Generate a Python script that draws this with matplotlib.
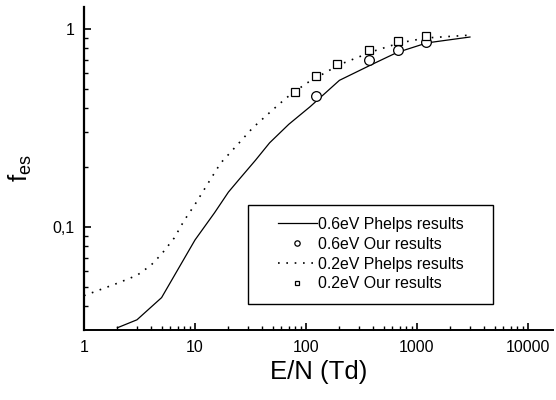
import matplotlib
matplotlib.use("Agg")
import matplotlib.pyplot as plt
from matplotlib.patches import Rectangle
from matplotlib.ticker import FixedLocator, LogLocator, NullFormatter, FixedFormatter

plt.rcParams['font.family'] = ['Liberation Sans', 'DejaVu Sans']

# 0.6 eV Phelps results (solid)
phelps06_x = [2, 3, 5, 10, 15, 20, 25, 35, 47, 70, 109, 200, 400, 660, 1230, 3000]
phelps06_y = [0.031, 0.034, 0.044, 0.086, 0.118, 0.15, 0.174, 0.217, 0.266, 0.33, 0.405, 0.55, 0.665, 0.76, 0.85, 0.91]

# 0.6 eV Our results (circles)
our06_x = [122, 370, 670, 1200]
our06_y = [0.46, 0.70, 0.78, 0.86]

# 0.2 eV Phelps results (dotted)
phelps02_x = [1, 2, 3, 4, 5, 6.5, 8, 10, 13, 17, 25, 33, 50, 67, 100, 200, 400, 700, 1200, 3000]
phelps02_y = [0.045, 0.052, 0.057, 0.064, 0.073, 0.088, 0.108, 0.13, 0.165, 0.21, 0.266, 0.316, 0.39, 0.45, 0.53, 0.66, 0.77, 0.85, 0.90, 0.93]

# 0.2 eV Our results (squares)
our02_x = [80, 122, 192, 370, 670, 1200]
our02_y = [0.48, 0.58, 0.667, 0.78, 0.87, 0.92]

x_ticks = [1, 10, 100, 1000, 10000]
x_ticklabels = ["1", "10", "100", "1000", "10000"]
y_ticks = [0.1, 1]
y_ticklabels = ["0,1", "1"]

fig = plt.figure(figsize=(5.56, 4.0), dpi=100)
ax = fig.add_axes([84 / 556, 70 / 400, 469 / 556, 323 / 400])

ax.plot(phelps06_x, phelps06_y, color='black', lw=0.9, label='0.6eV Phelps results')
ax.plot(our06_x, our06_y, 'o', mfc='white', mec='black', ms=7, mew=0.9, label='0.6eV Our results')
ax.plot(phelps02_x, phelps02_y, color='black', lw=1.2, linestyle=(0, (1, 4)), label='0.2eV Phelps results')
ax.plot(our02_x, our02_y, 's', mfc='white', mec='black', ms=6.3, mew=0.9, label='0.2eV Our results')

ax.set_xscale('log')
ax.set_yscale('log')
ax.set_xlim(1, 16800)
ax.set_ylim(0.0302, 1.29)

ax.xaxis.set_major_locator(FixedLocator(x_ticks))
ax.xaxis.set_major_formatter(FixedFormatter(x_ticklabels))
ax.xaxis.set_minor_locator(LogLocator(base=10, subs=range(2, 10), numticks=20))
ax.xaxis.set_minor_formatter(NullFormatter())
ax.yaxis.set_major_locator(FixedLocator(y_ticks))
ax.yaxis.set_major_formatter(FixedFormatter(y_ticklabels))
ax.yaxis.set_minor_locator(LogLocator(base=10, subs=range(2, 10), numticks=20))
ax.yaxis.set_minor_formatter(NullFormatter())

ax.tick_params(which='major', direction='in', length=5, width=1.2, labelsize=11.5, pad=7)
ax.tick_params(which='minor', direction='in', length=3, width=1.0)
for s in ['top', 'right']:
    ax.spines[s].set_visible(False)
ax.spines['left'].set_linewidth(1.6)
ax.spines['bottom'].set_linewidth(1.4)

ax.set_xlabel('E/N (Td)', fontsize=18.5, labelpad=4)
ax.set_ylabel('f$_{\\mathregular{es}}$', fontsize=18.5, labelpad=13)

leg = ax.legend(loc='upper left', bbox_to_anchor=(278 / 556, 1 - 217 / 400),
                bbox_transform=fig.transFigure, fontsize=11.4, frameon=False,
                handlelength=2.45, handletextpad=0.1, borderpad=0, labelspacing=0.3,
                markerscale=0.55, borderaxespad=0)
fig.add_artist(Rectangle((248 / 556, 1 - 304 / 400), 245 / 556, 99 / 400,
                         transform=fig.transFigure, fill=False, edgecolor='black', lw=1.0))

fig.savefig('out.png', dpi=100)
